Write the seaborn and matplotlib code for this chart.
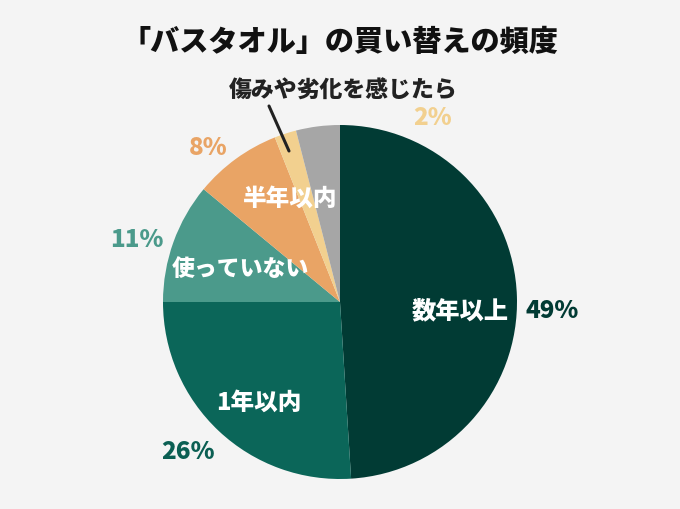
import matplotlib
matplotlib.use("Agg")
import matplotlib.pyplot as plt
import seaborn as sns

categories = ["数年以上", "1年以内", "使っていない", "半年以内", "傷みや劣化を感じたら", "その他"]
values = [49, 26, 11, 8, 2, 4]
pct_labels = ["49%", "26%", "11%", "8%", "2%", ""]
colors = ["#013b34", "#0b6659", "#4b9a8b", "#e9a465", "#f2d08f", "#a6a6a6"]
title = "「バスタオル」の買い替えの頻度"

sns.set_theme(style="white")
plt.rcParams["font.family"] = ["Noto Sans CJK JP", "DejaVu Sans"]

bg = "#f4f4f4"
fig = plt.figure(figsize=(6.8, 5.1), dpi=100, facecolor=bg)
ax = fig.add_axes([0, 0, 1, 1])
ax.set_facecolor(bg)

ax.pie(values, colors=colors, startangle=90, counterclock=False, radius=1,
       wedgeprops=dict(linewidth=0))

R = 177.0
cx, cy = 340.0, 303.0
def P(px, py):
    return (px - cx) / R, (cy - py) / R

ax.set_xlim(-cx / R, (680 - cx) / R)
ax.set_ylim(-(510 - cy) / R, cy / R)
ax.set_aspect("equal")
ax.axis("off")

W = 900

# inner labels
inner = [(categories[0], 460, 311, 17.5), (categories[1], 259, 402, 17),
         (categories[2], 240, 270, 16.5), (categories[3], 290, 198, 17)]
for txt, px, py, fs in inner:
    ax.text(*P(px, py), txt, color="white", fontsize=fs, fontweight=W,
            ha="center", va="center")

# percentage labels
outer = [(0, 552, 311), (1, 188, 452), (2, 137, 240), (3, 208, 148), (4, 433, 118)]
pct_colors = ["#013b34", "#0b5f53", "#4b9a8b", "#e9a465", "#f2d08f"]
for i, px, py in outer:
    ax.text(*P(px, py), pct_labels[i], color=pct_colors[i], fontsize=17.5,
            fontweight=W, ha="center", va="center")

# callout label
ax.text(*P(343, 91), categories[4], color="#222222", fontsize=16.5,
        fontweight=W, ha="center", va="center")
x0, y0 = P(269, 107)
x1, y1 = P(289, 152)
ax.plot([x0, x1], [y0, y1], color="#222222", lw=2.2)

ax.text(*P(340, 42), title, color="#111111", fontsize=21, fontweight=W,
        ha="center", va="center")

fig.savefig("out.png", dpi=100, facecolor=bg)
